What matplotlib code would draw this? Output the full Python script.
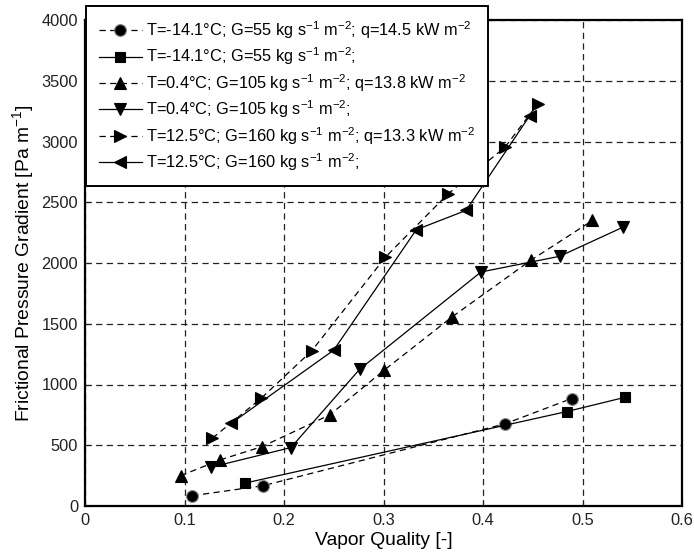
import matplotlib
matplotlib.use("Agg")
import matplotlib.pyplot as plt

plt.rcParams['font.family'] = ['Liberation Sans', 'DejaVu Sans']
plt.rcParams['mathtext.fontset'] = 'custom'
plt.rcParams['mathtext.rm'] = 'Liberation Sans'
plt.rcParams['mathtext.it'] = 'Liberation Sans:italic'
plt.rcParams['mathtext.bf'] = 'Liberation Sans:bold'
plt.rcParams['mathtext.default'] = 'regular'

# Data (vapor quality, frictional pressure gradient)
circ_x = [0.108, 0.179, 0.422, 0.489]
circ_y = [85, 167, 676, 884]
sq_x = [0.161, 0.484, 0.543]
sq_y = [189, 777, 895]
up_x = [0.096, 0.136, 0.178, 0.246, 0.301, 0.369, 0.448, 0.510]
up_y = [249, 380, 489, 750, 1120, 1557, 2022, 2350]
dn_x = [0.127, 0.207, 0.276, 0.398, 0.477, 0.541]
dn_y = [320, 481, 1125, 1926, 2055, 2296]
rt_x = [0.128, 0.177, 0.228, 0.302, 0.365, 0.422, 0.455]
rt_y = [558, 886, 1278, 2049, 2570, 2952, 3309]
lt_x = [0.147, 0.250, 0.333, 0.383, 0.447]
lt_y = [681, 1283, 2274, 2433, 3213]

labels = [
    r'T=-14.1°C; G=55 kg s$^{-1}$ m$^{-2}$; q=14.5 kW m$^{-2}$',
    r'T=-14.1°C; G=55 kg s$^{-1}$ m$^{-2}$;',
    r'T=0.4°C; G=105 kg s$^{-1}$ m$^{-2}$; q=13.8 kW m$^{-2}$',
    r'T=0.4°C; G=105 kg s$^{-1}$ m$^{-2}$;',
    r'T=12.5°C; G=160 kg s$^{-1}$ m$^{-2}$; q=13.3 kW m$^{-2}$',
    r'T=12.5°C; G=160 kg s$^{-1}$ m$^{-2}$;',
]

xticks = [0, 0.1, 0.2, 0.3, 0.4, 0.5, 0.6]
xticklabels = ['0', '0.1', '0.2', '0.3', '0.4', '0.5', '0.6']
yticks = [0, 500, 1000, 1500, 2000, 2500, 3000, 3500, 4000]

fig = plt.figure(figsize=(6.94, 5.58), dpi=100)
ax = fig.add_axes([85/694, 1-506/558, (682-85)/694, (506-20)/558])

dash = (0, (5, 3.5))
lw = 0.9
series = [
    (circ_x, circ_y, 'o', dash, 8.5, '#888888'),
    (sq_x, sq_y, 's', '-', 6.5, 'black'),
    (up_x, up_y, '^', dash, 8, 'black'),
    (dn_x, dn_y, 'v', '-', 8, 'black'),
    (rt_x, rt_y, '>', dash, 8, 'black'),
    (lt_x, lt_y, '<', '-', 8, 'black'),
]
handles = []
for (x, y, m, ls, ms, mec), lab in zip(series, labels):
    h, = ax.plot(x, y, linestyle=ls, color='black', lw=lw, marker=m,
                 markersize=ms, markerfacecolor='black', markeredgecolor=mec,
                 markeredgewidth=0.8, label=lab, zorder=3)
    handles.append(h)

ax.set_xlim(0, 0.6)
ax.set_ylim(0, 4000)
ax.set_xticks(xticks)
ax.set_xticklabels(xticklabels)
ax.set_yticks(yticks)
ax.grid(True, color='#222222', linestyle=(0, (5, 3.5)), linewidth=0.9)
ax.set_axisbelow(True)
ax.tick_params(direction='in', length=4, labelsize=11.8, colors='#222222', pad=5)
for s in ax.spines.values():
    s.set_linewidth(1.6)
    s.set_color('black')

ax.set_xlabel('Vapor Quality [-]', fontsize=13.9, labelpad=3)
ax.set_ylabel(r'Frictional Pressure Gradient [Pa m$^{-1}$]', fontsize=13.9, labelpad=4)

leg = ax.legend(handles=handles, loc='upper left',
                bbox_to_anchor=(86/694, 1-6/558), bbox_transform=fig.transFigure,
                borderaxespad=0, fancybox=False, framealpha=1, fontsize=11.8,
                handlelength=2.6, handletextpad=0.25, labelspacing=0.29,
                borderpad=0.8, numpoints=1)
leg.get_frame().set_edgecolor('black')
leg.get_frame().set_linewidth(1.4)
leg.set_zorder(5)

fig.savefig('out.png', dpi=100)
